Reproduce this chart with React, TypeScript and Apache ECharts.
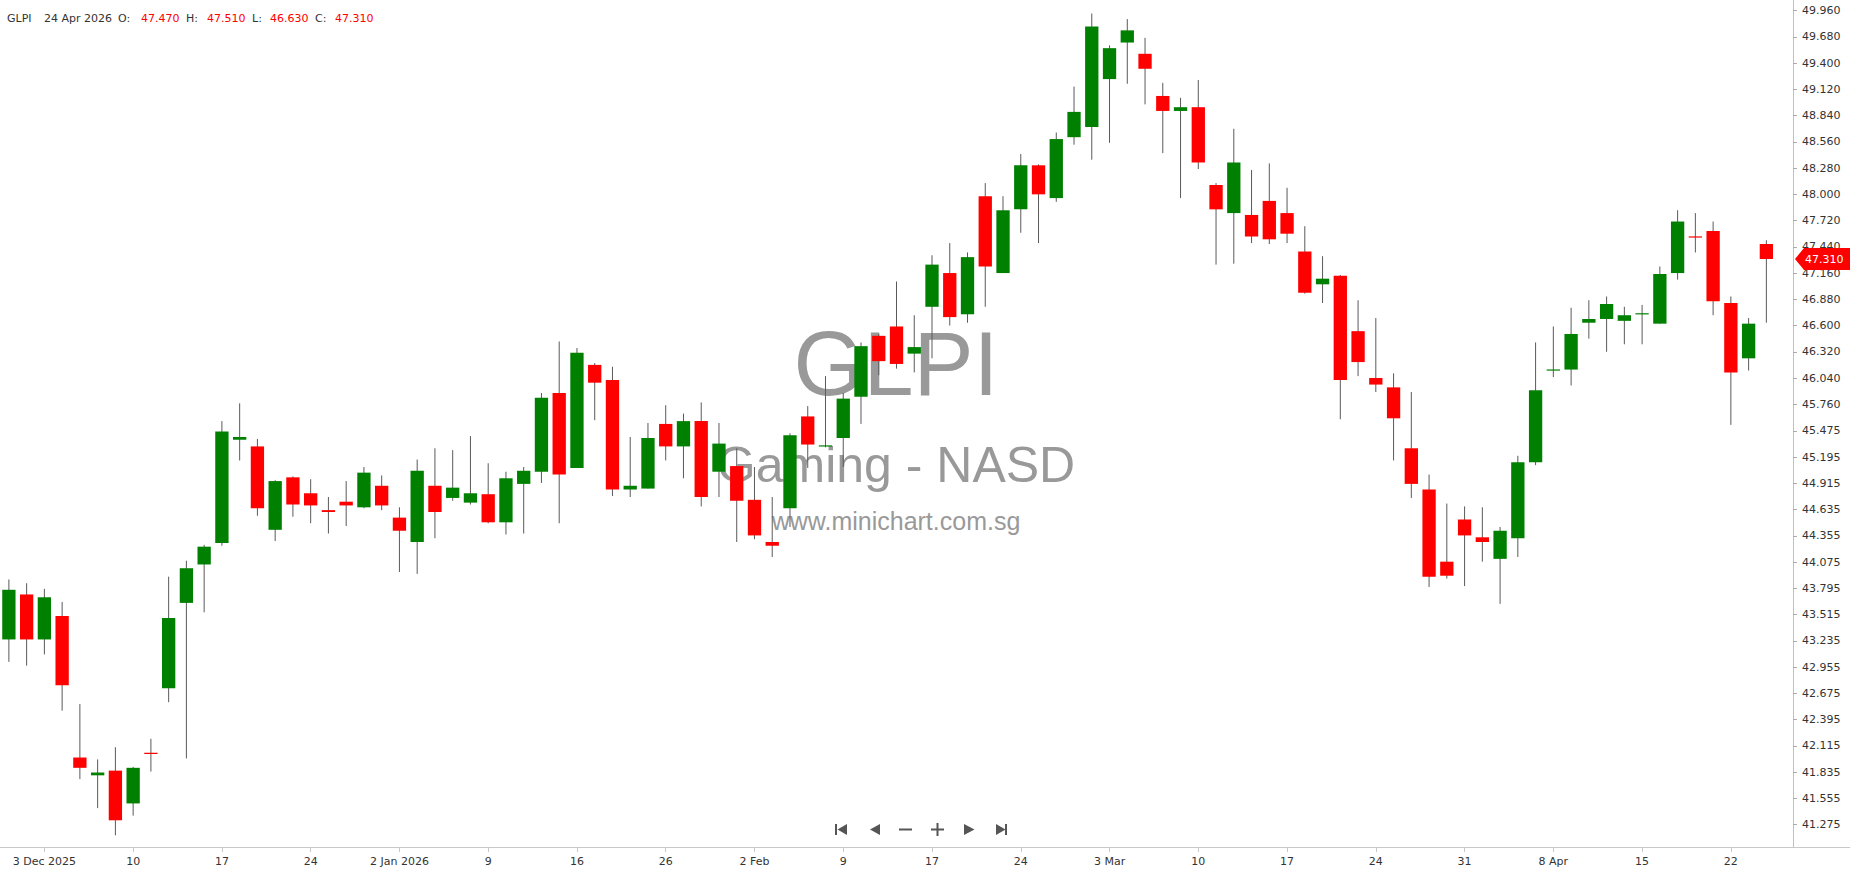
import React, { useEffect, useRef } from 'react';
import * as echarts from 'echarts';

const symbolName = 'GLPI';
const subtitle = 'Gaming - NASD';
const siteName = 'www.minichart.com.sg';

const dates = [
  '2025-12-01','2025-12-02','2025-12-03','2025-12-04','2025-12-05','2025-12-08','2025-12-09','2025-12-10','2025-12-11','2025-12-12',
  '2025-12-15','2025-12-16','2025-12-17','2025-12-18','2025-12-19','2025-12-22','2025-12-23','2025-12-24','2025-12-26','2025-12-29',
  '2025-12-30','2025-12-31','2026-01-02','2026-01-05','2026-01-06','2026-01-07','2026-01-08','2026-01-09','2026-01-12','2026-01-13',
  '2026-01-14','2026-01-15','2026-01-16','2026-01-20','2026-01-21','2026-01-22','2026-01-23','2026-01-26','2026-01-27','2026-01-28',
  '2026-01-29','2026-01-30','2026-02-02','2026-02-03','2026-02-04','2026-02-05','2026-02-06','2026-02-09','2026-02-10','2026-02-11',
  '2026-02-12','2026-02-13','2026-02-17','2026-02-18','2026-02-19','2026-02-20','2026-02-23','2026-02-24','2026-02-25','2026-02-26',
  '2026-02-27','2026-03-02','2026-03-03','2026-03-04','2026-03-05','2026-03-06','2026-03-09','2026-03-10','2026-03-11','2026-03-12',
  '2026-03-13','2026-03-16','2026-03-17','2026-03-18','2026-03-19','2026-03-20','2026-03-23','2026-03-24','2026-03-25','2026-03-26',
  '2026-03-27','2026-03-30','2026-03-31','2026-04-01','2026-04-02','2026-04-06','2026-04-07','2026-04-08','2026-04-09','2026-04-10',
  '2026-04-13','2026-04-14','2026-04-15','2026-04-16','2026-04-17','2026-04-20','2026-04-21','2026-04-22','2026-04-23','2026-04-24'
];

const opens = [
  43.25,43.73,43.25,43.50,41.99,41.80,41.85,41.50,42.04,42.73,
  43.64,44.05,44.28,45.38,45.31,44.42,44.98,44.81,44.63,44.72,
  44.66,44.89,44.55,44.29,44.89,44.76,44.71,44.80,44.50,44.91,
  45.04,45.88,45.08,46.18,46.02,44.85,44.86,45.55,45.31,45.58,
  45.04,45.10,44.74,44.29,44.65,45.63,45.31,45.40,45.84,46.49,
  46.59,46.30,46.80,47.16,46.72,47.98,47.16,47.84,48.31,47.96,
  48.61,48.72,49.23,49.62,49.50,49.05,48.89,48.93,48.10,47.80,
  47.78,47.93,47.80,47.39,47.04,47.13,46.54,46.04,45.94,45.29,
  44.85,44.08,44.53,44.34,44.11,44.33,45.14,46.12,46.13,46.63,
  46.67,46.65,46.72,46.62,47.16,47.55,47.61,46.84,46.25,47.47
];
const closes = [
  43.78,43.25,43.70,42.76,41.88,41.83,41.32,41.88,42.03,43.48,
  44.01,44.24,45.47,45.41,44.65,44.94,44.69,44.68,44.61,44.68,
  45.03,44.68,44.41,45.05,44.61,44.87,44.81,44.50,44.97,45.05,
  45.83,45.01,46.31,45.99,44.85,44.89,45.40,45.31,45.58,44.77,
  45.34,44.73,44.36,44.25,45.43,45.33,45.32,45.82,46.38,46.22,
  46.19,46.37,47.25,46.69,47.33,47.23,47.83,48.31,48.00,48.59,
  48.88,49.79,49.56,49.75,49.34,48.89,48.93,48.34,47.84,48.34,
  47.55,47.52,47.58,46.95,47.10,46.02,46.21,45.97,45.61,44.91,
  43.92,43.93,44.36,44.29,44.41,45.14,45.91,46.13,46.51,46.67,
  46.83,46.71,46.73,47.15,47.71,47.54,46.86,46.10,46.62,47.31
];
const lows = [
  43.01,42.97,43.09,42.49,41.76,41.45,41.16,41.37,41.84,42.58,
  41.98,43.54,44.25,45.16,44.57,44.30,44.56,44.49,44.38,44.46,
  44.65,44.63,43.97,43.95,44.33,44.73,44.69,44.49,44.37,44.38,
  44.92,44.49,45.08,45.59,44.78,44.77,44.86,45.16,44.97,44.67,
  44.77,44.29,44.32,44.13,44.45,45.08,45.30,45.09,45.55,46.07,
  46.14,46.10,46.25,46.60,46.63,46.80,47.16,47.59,47.48,47.92,
  48.53,48.37,48.55,49.18,48.96,48.44,47.96,48.27,47.25,47.26,
  47.48,47.47,47.48,46.94,46.84,45.60,46.06,45.89,45.16,44.76,
  43.81,43.90,43.82,44.08,43.63,44.13,45.11,46.05,45.96,46.46,
  46.32,46.40,46.40,46.62,47.09,47.38,46.71,45.54,46.12,46.63
];
const highs = [
  43.89,43.85,43.79,43.65,42.56,41.97,42.10,41.89,42.19,43.92,
  44.09,44.26,45.58,45.77,45.39,44.95,44.99,44.96,44.77,44.94,
  45.09,45.00,44.66,45.17,45.29,45.27,45.42,45.13,45.04,45.09,
  45.88,46.43,46.36,46.20,46.16,45.41,45.56,45.75,45.66,45.78,
  45.56,45.29,45.09,44.77,45.45,45.74,46.06,45.88,46.42,46.51,
  47.07,46.71,47.35,47.48,47.38,48.12,47.98,48.43,48.32,48.66,
  49.15,49.93,49.59,49.87,49.67,49.19,49.03,49.22,48.12,48.70,
  48.26,48.33,48.07,47.66,47.34,47.14,46.87,46.68,46.09,45.89,
  45.01,44.70,44.67,44.66,44.45,45.21,46.42,46.59,46.79,46.87,
  46.91,46.80,46.82,47.23,47.83,47.80,47.71,46.91,46.68,47.51
];

const yTickValues = [
  41.275,41.555,41.835,42.115,42.395,42.675,42.955,43.235,43.515,43.795,
  44.075,44.355,44.635,44.915,45.195,45.475,45.760,46.040,46.320,46.600,
  46.880,47.160,47.440,47.720,48.000,48.280,48.560,48.840,49.120,49.400,
  49.680,49.960
];

const MONTHS = ['Jan','Feb','Mar','Apr','May','Jun','Jul','Aug','Sep','Oct','Nov','Dec'];
const GREEN = '#008000';
const RED = '#ff0000';
const FONT = '"DejaVu Sans", sans-serif';
const WM_FONT = '"Liberation Sans", Arial, sans-serif';

const isTickIndex = (i: number) => i < dates.length && (i - 2) % 5 === 0 && i >= 2;

function labelFor(i: number): string {
  const d = dates[i];
  if (!d) return '';
  const [y, m, day] = d.split('-').map(Number);
  const prev = dates[i - 5];
  const dayStr = String(day);
  if (!prev || i === 2) return `${dayStr} ${MONTHS[m - 1]} ${y}`;
  const [py, pm] = prev.split('-').map(Number);
  if (py !== y) return `${dayStr} ${MONTHS[m - 1]} ${y}`;
  if (pm !== m) return `${dayStr} ${MONTHS[m - 1]}`;
  return dayStr;
}

function fmtDate(d: string): string {
  const [y, m, day] = d.split('-').map(Number);
  return `${day} ${MONTHS[m - 1]} ${y}`;
}

export default function App() {
  const ref = useRef<HTMLDivElement>(null);

  useEffect(() => {
    if (!ref.current) return;
    const chart = echarts.init(ref.current, null, { renderer: 'svg' });

    const rows = dates.map((_, i) => [i, opens[i], closes[i], lows[i], highs[i]]);

    const option: any = {
      animation: false,
      backgroundColor: '#ffffff',
      grid: { left: 0, top: 0, right: 57, bottom: 27, containLabel: false, outerBoundsMode: 'none' },
      xAxis: {
        type: 'category',
        data: [...dates, ''],
        boundaryGap: true,
        axisLine: { show: true, lineStyle: { color: '#c8c8c8', width: 1 } },
        axisTick: {
          show: true,
          alignWithLabel: true,
          length: 5,
          interval: (i: number) => isTickIndex(i),
          lineStyle: { color: '#c8c8c8' }
        },
        axisLabel: {
          interval: (i: number) => isTickIndex(i),
          formatter: (_v: string, i: number) => labelFor(i),
          color: '#333',
          fontFamily: FONT,
          fontSize: 11,
          margin: 9
        },
        splitLine: { show: false }
      },
      yAxis: {
        type: 'value',
        position: 'right',
        min: 41.035,
        max: 50.074,
        axisLine: { show: true, lineStyle: { color: '#c0c0c0' } },
        axisTick: { show: true, length: 4, customValues: yTickValues, lineStyle: { color: '#aaaaaa' } },
        axisLabel: {
          customValues: yTickValues,
          formatter: (v: number) => v.toFixed(3),
          color: '#333',
          fontFamily: FONT,
          fontSize: 11,
          margin: 9
        },
        splitLine: { show: false }
      },
      series: [
        {
          type: 'custom',
          name: symbolName,
          data: rows,
          encode: { x: 0, y: [1, 2, 3, 4] },
          renderItem: (_params: any, api: any) => {
            const i = api.value(0);
            const o = api.value(1);
            const c = api.value(2);
            const l = api.value(3);
            const h = api.value(4);
            const pO = api.coord([i, o]);
            const pC = api.coord([i, c]);
            const pL = api.coord([i, l]);
            const pH = api.coord([i, h]);
            const w = api.size([1, 0])[0] * 0.75;
            const x = pO[0];
            let top = Math.min(pO[1], pC[1]);
            let ht = Math.abs(pO[1] - pC[1]);
            if (ht < 1.2) { top = (pO[1] + pC[1]) / 2 - 0.6; ht = 1.2; }
            const color = c >= o ? GREEN : RED;
            return {
              type: 'group',
              children: [
                { type: 'line', shape: { x1: x, y1: pH[1], x2: x, y2: pL[1] }, style: { stroke: '#5a5a5a', lineWidth: 1 } },
                { type: 'rect', shape: { x: x - w / 2, y: top, width: w, height: ht }, style: { fill: color } }
              ]
            };
          }
        }
      ]
    };

    chart.setOption(option);

    const last = dates.length - 1;
    const lastClose = closes[last];
    const tagY = chart.convertToPixel({ yAxisIndex: 0 }, lastClose) as number;
    const headerColor = closes[last] >= opens[last] ? GREEN : RED;

    const headerItems: [string, number, string][] = [
      [symbolName, 7, '#333'],
      [fmtDate(dates[last]), 44, '#333'],
      ['O:', 118, '#333'],
      [opens[last].toFixed(3), 141, headerColor],
      ['H:', 186, '#333'],
      [highs[last].toFixed(3), 207, headerColor],
      ['L:', 252, '#333'],
      [lows[last].toFixed(3), 270, headerColor],
      ['C:', 315, '#333'],
      [closes[last].toFixed(3), 335, headerColor]
    ];

    const graphics: any[] = [];
    // watermark
    graphics.push({ type: 'text', z: 0, silent: true, x: 896, y: 364, style: { text: symbolName, fill: '#999999', font: `90px ${WM_FONT}`, align: 'center', verticalAlign: 'middle' } });
    graphics.push({ type: 'text', z: 0, silent: true, x: 896, y: 465, style: { text: subtitle, fill: '#999999', font: `50px ${WM_FONT}`, align: 'center', verticalAlign: 'middle' } });
    graphics.push({ type: 'text', z: 0, silent: true, x: 896, y: 521, style: { text: siteName, fill: '#999999', font: `25px ${WM_FONT}`, align: 'center', verticalAlign: 'middle' } });
    // header
    headerItems.forEach(([t, x, col]) => {
      graphics.push({ type: 'text', z: 50, x, y: 18, style: { text: t, fill: col, font: `11px ${FONT}`, align: 'left', verticalAlign: 'middle' } });
    });
    // bottom line extension
    graphics.push({ type: 'line', z: 50, shape: { x1: 1793, y1: 847.5, x2: 1850, y2: 847.5 }, style: { stroke: '#c8c8c8', lineWidth: 1 } });
    // nav icons
    const navY = 829.5;
    const ic = '#555555';
    graphics.push({ type: 'rect', z: 50, shape: { x: 835, y: navY - 5.5, width: 2, height: 11 }, style: { fill: ic } });
    graphics.push({ type: 'polygon', z: 50, shape: { points: [[847, navY - 5.5], [847, navY + 5.5], [837.5, navY]] }, style: { fill: ic } });
    graphics.push({ type: 'polygon', z: 50, shape: { points: [[880, navY - 5.5], [880, navY + 5.5], [870, navY]] }, style: { fill: ic } });
    graphics.push({ type: 'rect', z: 50, shape: { x: 899, y: navY - 1, width: 13, height: 2 }, style: { fill: ic } });
    graphics.push({ type: 'rect', z: 50, shape: { x: 931, y: navY - 1, width: 13, height: 2 }, style: { fill: ic } });
    graphics.push({ type: 'rect', z: 50, shape: { x: 936.5, y: navY - 6.5, width: 2, height: 13 }, style: { fill: ic } });
    graphics.push({ type: 'polygon', z: 50, shape: { points: [[964, navY - 5.5], [964, navY + 5.5], [974.5, navY]] }, style: { fill: ic } });
    graphics.push({ type: 'polygon', z: 50, shape: { points: [[996, navY - 5.5], [996, navY + 5.5], [1005.5, navY]] }, style: { fill: ic } });
    graphics.push({ type: 'rect', z: 50, shape: { x: 1005, y: navY - 5.5, width: 2, height: 11 }, style: { fill: ic } });
    // price tag
    graphics.push({
      type: 'polygon', z: 100,
      shape: { points: [[1795, tagY], [1804, tagY - 11], [1850, tagY - 11], [1850, tagY + 11], [1804, tagY + 11]] },
      style: { fill: RED }
    });
    graphics.push({ type: 'text', z: 101, x: 1805, y: tagY, style: { text: lastClose.toFixed(3), fill: '#ffffff', font: `11px ${FONT}`, align: 'left', verticalAlign: 'middle' } });

    chart.setOption({ graphic: graphics });

    return () => chart.dispose();
  }, []);

  return <div ref={ref} style={{ position: 'fixed', left: 0, top: 0, width: '1850px', height: '874px', background: '#fff' }} />;
}
